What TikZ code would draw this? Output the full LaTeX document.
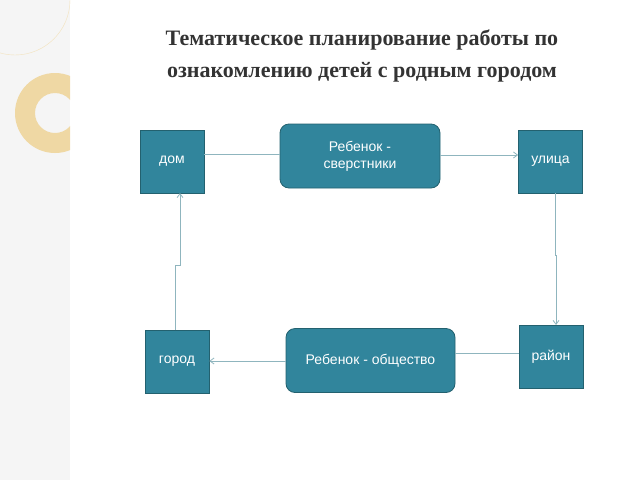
\documentclass[tikz,border=0pt]{standalone}
\usepackage{fontspec}
\usetikzlibrary{arrows.meta}
\setmainfont{Liberation Serif}
\newfontfamily\boxfont{Liberation Sans}
\definecolor{tealfill}{HTML}{31859C}
\definecolor{tealline}{HTML}{23616F}
\definecolor{wireline}{HTML}{8FB5BE}
\definecolor{ringgold}{HTML}{EBCF8E}
\begin{document}
\begin{tikzpicture}[x=1pt,y=-1pt,
  sqbox/.style={draw=tealline,fill=tealfill,line width=0.8pt,minimum width=64pt,minimum height=63pt,inner sep=0pt,text=white,font=\boxfont\fontsize{14}{17}\selectfont},
  rbox/.style={sqbox,rounded corners=9pt,minimum height=64pt,align=center},
  wire/.style={draw=wireline,line width=0.8pt},
  arr/.style={wire,-{Straight Barb[length=4pt,width=6pt]}}]
\useasboundingbox (0,0) rectangle (640,480);
% side strip
\fill[gray!8] (0,0) rectangle (70,480);
\begin{scope}
\clip (0,0) rectangle (70,480);
\draw[ringgold!60,line width=0.4pt] (15,0) circle (55);
\fill[ringgold!80,even odd rule] (55,113) circle (40) (55,113) circle (20);
\end{scope}
% title
\node (title) at (362,56) [align=center,text=black!80,font=\bfseries\fontsize{22}{32}\selectfont]
  {Тематическое планирование работы по\\ознакомлению детей с родным городом};
% boxes
\node (dom) at (172,161.5) [sqbox] {дом};
\node (peers) at (360,156) [rbox,minimum width=160pt] {Ребенок -\\сверстники};
\node (street) at (550.5,161.5) [sqbox] {улица};
\node (district) at (551,356.5) [sqbox] {район};
\node (society) at (370.5,360.5) [rbox,minimum width=169pt] {Ребенок - общество};
\node (city) at (177,361.5) [sqbox] {город};
% connectors
\draw[wire] (dom.east |- 0,154) -- (peers.west |- 0,154);
\draw[arr] (peers.east |- 0,155) -- (street.west |- 0,155);
\draw[arr] (555,193) -- (555,255) -- (556,255) -- (556,325);
\draw[wire] (district.west |- 0,353) -- (society.east |- 0,353);
\draw[arr] (society.west |- 0,361) -- (city.east |- 0,361);
\draw[arr] (175,330) -- (175,265) -- (180,265) -- (180,193);
\end{tikzpicture}
\end{document}
